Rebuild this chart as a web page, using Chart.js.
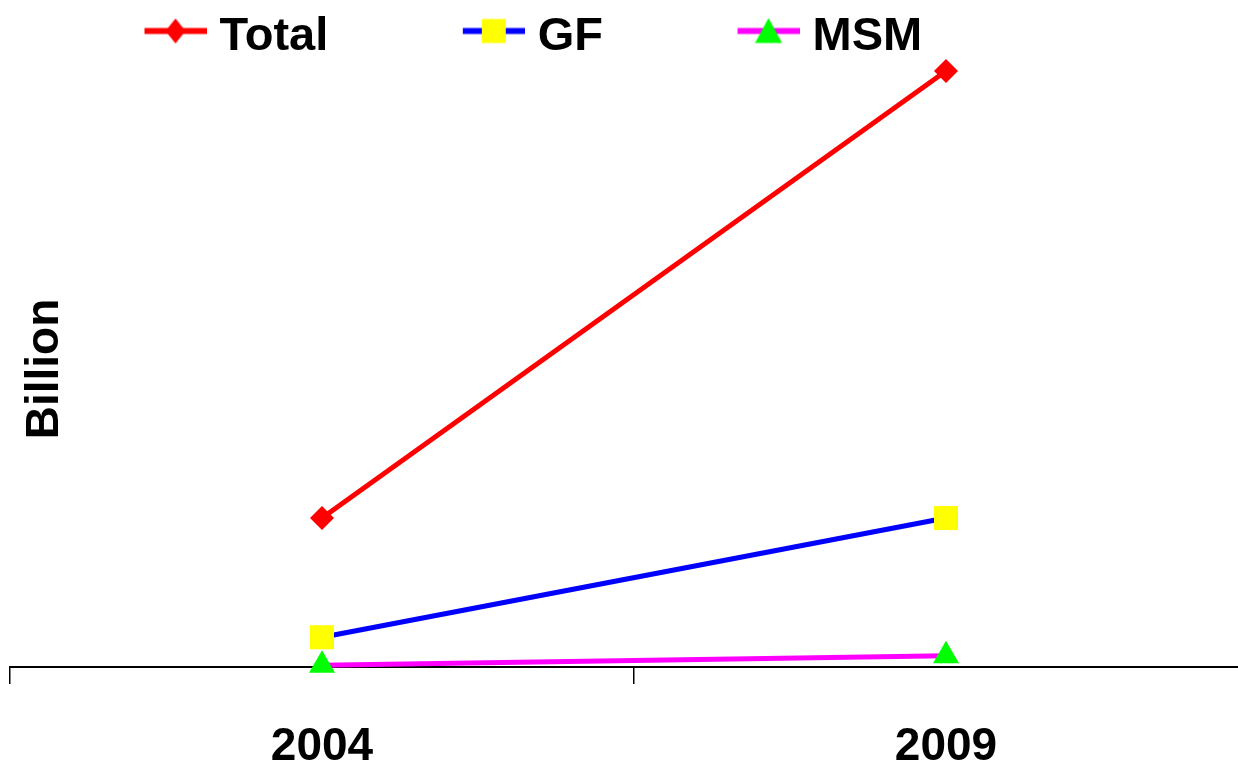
<!DOCTYPE html>
<html>
<head>
<meta charset="utf-8">
<script src="https://cdn.jsdelivr.net/npm/chart.js@4.4.1/dist/chart.umd.min.js"></script>
<style>
  html, body { margin: 0; padding: 0; background: #fff; overflow: hidden; }
  #chart { display: block; }
</style>
</head>
<body>
<canvas id="chart" width="1258" height="811"></canvas>
<script>
// Data (billions)
const years = ['2004', '2009'];
const seriesNames = ['Total', 'GF', 'MSM'];
const totalVals = [4.0, 16.0];
const gfVals = [0.8, 4.0];
const msmVals = [0.05, 0.3];

Chart.defaults.font.family = '"Liberation Sans", Arial, sans-serif';

// Legend symbol: a short line with the marker in the middle
const iconBox = 186;
function makeIcon(lineColor, markColor, shape) {
    const c = document.createElement('canvas');
    c.width = iconBox + 21;
    c.height = 40;
    const g = c.getContext('2d');
    const y = 13.5;
    const x1 = c.width - 62, x2 = c.width, mx = (x1 + x2) / 2;
    g.strokeStyle = lineColor;
    g.lineWidth = 6;
    g.beginPath();
    g.moveTo(x1, y);
    g.lineTo(x2, y);
    g.stroke();
    g.fillStyle = markColor;
    g.beginPath();
    if (shape == 'diamond') {
        g.moveTo(mx, y - 12.5); g.lineTo(mx + 10, y); g.lineTo(mx, y + 12.5); g.lineTo(mx - 10, y);
    } else if (shape == 'square') {
        g.rect(mx - 12, y - 12, 24, 24);
    } else {
        g.moveTo(mx, y - 13); g.lineTo(mx + 13.5, y + 12); g.lineTo(mx - 13.5, y + 12);
    }
    g.closePath();
    g.fill();
    return c;
}
const icons = [
    makeIcon('#ff0000', '#ff0000', 'diamond'),
    makeIcon('#0000ff', '#ffff00', 'square'),
    makeIcon('#ff00ff', '#00ff00', 'triangle')
];

new Chart(document.getElementById('chart'), {
    type: 'line',
    data: {
        labels: years,
        datasets: [
            {
                label: seriesNames[0],
                data: totalVals,
                borderColor: '#ff0000',
                borderWidth: 5,
                pointStyle: 'rectRot',
                pointRadius: 12,
                pointHoverRadius: 12,
                pointBorderWidth: 0,
                pointBackgroundColor: '#ff0000',
                clip: false
            },
            {
                label: seriesNames[1],
                data: gfVals,
                borderColor: '#0000ff',
                borderWidth: 5,
                pointStyle: 'rect',
                pointRadius: 17,
                pointHoverRadius: 17,
                pointBorderWidth: 0,
                pointBackgroundColor: '#ffff00',
                clip: false
            },
            {
                label: seriesNames[2],
                data: msmVals,
                borderColor: '#ff00ff',
                borderWidth: 5,
                pointStyle: 'triangle',
                pointRadius: 15,
                pointHoverRadius: 15,
                pointBorderWidth: 0,
                pointBackgroundColor: '#00ff00',
                clip: false
            }
        ]
    },
    options: {
        responsive: false,
        animation: false,
        layout: {
            autoPadding: false,
            padding: { top: 14, left: 10, right: 0, bottom: 0 }
        },
        plugins: {
            tooltip: { enabled: false },
            legend: {
                position: 'top',
                align: 'start',
                labels: {
                    usePointStyle: true,
                    pointStyleWidth: iconBox,
                    padding: 0,
                    color: '#000',
                    font: { size: 47, weight: 'bold' },
                    generateLabels: function (chart) {
                        const items = Chart.defaults.plugins.legend.labels.generateLabels(chart);
                        return items.map((it, i) => Object.assign(it, { pointStyle: icons[i] }));
                    }
                }
            }
        },
        scales: {
            x: {
                offset: true,
                grid: {
                    offset: true,
                    drawOnChartArea: false,
                    drawTicks: true,
                    tickLength: 17,
                    color: '#000',
                    lineWidth: 1.5
                },
                border: { display: true, color: '#000', width: 2 },
                ticks: {
                    color: '#000',
                    font: { size: 46, weight: 'bold', lineHeight: 2.76 },
                    padding: 0,
                    maxRotation: 0
                }
            },
            y: {
                min: 0,
                max: 16,
                ticks: { display: false },
                grid: { display: false },
                border: { display: false },
                title: {
                    display: true,
                    text: 'Billion',
                    color: '#000',
                    font: { size: 46, weight: 'bold' },
                    padding: { top: 8, bottom: 0 }
                },
                afterFit: function (scale) { scale.width = 0; }
            }
        }
    }
});
</script>
</body>
</html>
